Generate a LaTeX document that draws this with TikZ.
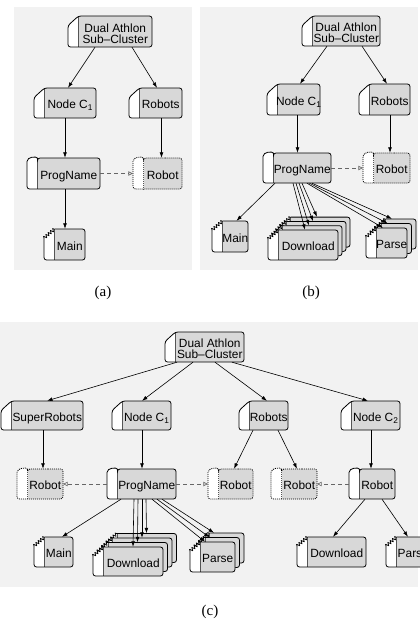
\documentclass[tikz,border=0pt]{standalone}
\usepackage{fontspec}
\setmainfont{Liberation Sans}
\newfontfamily\capfont{Liberation Serif}
\usetikzlibrary{arrows.meta,decorations.pathmorphing}
\definecolor{panelbg}{HTML}{F2F2F2}
\definecolor{bodygray}{HTML}{D8D8D8}
\definecolor{divgray}{HTML}{555555}
\definecolor{dashgray}{HTML}{666666}
\newcommand\boxfont{\fontsize{11.9}{11.3}\selectfont}
\newcommand\tabw{10.5}
% outlines
\newcommand\shpc[1]{#1 ({(\bxd+\bxr)/2},\byt) -- (\bxr,\byt) -- (\bxr,\byb) -- (\bxl,\byb) -- (\bxl,{\byt+9.5}) -- (\bxd,\byt) -- cycle;}
\newcommand\shpt[1]{#1 ({(\bxd+\bxr)/2},\byt) -- (\bxr,\byt) -- (\bxr,\byb) -- (\bxl,\byb) -- (\bxl,{\byt+9}) -- (\bxd,\byt) -- cycle;}
\newcommand\shpp[1]{#1 ({(\bxd+\bxr)/2},\byt) -- (\bxr,\byt) -- (\bxr,\byb) -- (\bxl,\byb) -- (\bxl,{\byt+6}) .. controls (\bxl,{\byt-1.5}) and ({\bxd-0.5},{\byt-1.8}) .. (\bxd,{\byt+2.5}) -- (\bxd,\byt) -- cycle;}
% strokes
\newcommand\strkc{\draw[divgray,line width=0.8pt] (\bxd,\byt) -- (\bxd,\byb); \shpc{\draw[outl,rounded corners=2.5]}}
\newcommand\strkp{\draw[divgray,line width=0.8pt] (\bxd,\byt) -- (\bxd,\byb); \shpp{\draw[outl,rounded corners=2.5]}}
\newcommand\strkr{\draw[divgray,line width=0.6pt,dash pattern=on 1pt off 1pt] (\bxd,{\byt+2.5}) -- (\bxd,\byb); \shpp{\draw[outl,dash pattern=on 1pt off 1pt,rounded corners=2.5]}}
\newcommand\strkt{\draw[divgray,line width=0.8pt] (\bxd,\byt) -- (\bxd,\byb);
 \draw[outl,rounded corners=2.5] (\bxd,\byt) -- (\bxr,\byt) -- (\bxr,\byb) -- (\bxl,\byb) -- (\bxl,{\byt+9});
 \draw[outl,line width=0.7pt,line join=round,decorate,decoration={zigzag,segment length=3pt,amplitude=1.6pt}] (\bxl,{\byt+9}) -- (\bxd,\byt);}
% box: [text opts]{kind}{name}{xl}{yt}{xr}{yb}{text}
\newcommand\nbox[8][]{%
 \pgfmathsetmacro\bxl{#4}\pgfmathsetmacro\byt{#5}%
 \pgfmathsetmacro\bxr{#6}\pgfmathsetmacro\byb{#7}%
 \pgfmathsetmacro\bxd{\bxl+\tabw}%
 \pgfmathsetmacro\bw{\bxr-\bxl}\pgfmathsetmacro\bh{\byb-\byt}%
 \pgfmathsetmacro\bcx{(\bxl+\bxr)/2}\pgfmathsetmacro\bcy{(\byt+\byb)/2}%
 \pgfmathsetmacro\btx{(\bxd+\bxr)/2}%
 \node[inner sep=0pt,minimum width=\bw pt,minimum height=\bh pt] (#3) at (\bcx,\bcy) {};%
 \if r#2\def\bk{p}\else\def\bk{#2}\fi
 \csname shp\bk\endcsname{\fill[white,rounded corners=2.5]}%
 \begin{scope}\csname shp\bk\endcsname{\clip[rounded corners=2.5]}%
 \fill[bodygray] (\bxd,{\byt-5}) rectangle ({\bxr+5},{\byb+5});\end{scope}%
 \csname strk#2\endcsname
 \node[boxtext,#1] (#3-t) at (\btx,\bcy) {#8};%
}
\begin{document}
\begin{tikzpicture}[x=1pt,y=-1pt,
 outl/.style={line width=0.8pt,black},
 arr/.style={line width=0.6pt,-{Latex[length=5.5pt,width=3.8pt]}},
 darr/.style={line width=0.9pt,dashgray,dash pattern=on 4pt off 3pt,-{Triangle[open,length=4.5pt,width=4.5pt,line width=0.7pt]}},
 boxtext/.style={inner sep=0pt,font=\boxfont,text height=8.6pt,text depth=0pt,yshift=-1.5pt},
 twoline/.style={text height=,text depth=,align=center,yshift=-0.5pt},
 captext/.style={font=\capfont\fontsize{15}{15}\selectfont,inner sep=0pt}]
\useasboundingbox (0,0) rectangle (420,622);
\clip (0,0) rectangle (420,622);
% panels
\fill[panelbg] (14,7) rectangle (192,270);
\fill[panelbg] (200,7) rectangle (418,270);
\fill[panelbg] (0,322) rectangle (418,587);
% ---------------- (a)
\nbox[twoline]{c}{aD}{68}{16}{152}{47}{Dual Athlon\\Sub--Cluster}
\nbox{c}{aN}{34}{88}{96}{118}{Node C\textsubscript{1}}
\nbox{c}{aR}{129}{88}{182}{118}{Robots}
\nbox{p}{aP}{27}{158}{100}{189}{ProgName}
\nbox{r}{aX}{133}{158}{182}{189}{Robot}
\nbox{t}{aM}{44}{229}{85}{260}{Main}
\draw[arr] ([xshift=-15]aD.south) -- ([xshift=3]aN.north);
\draw[arr] ([xshift=22]aD.south) -- ([xshift=1.5]aR.north);
\draw[arr] (aN.south) -- ([xshift=1.5]aP.north);
\draw[arr] ([xshift=6]aR.south) -- ([xshift=4]aX.north);
\draw[arr] ([xshift=1.5]aP.south) -- ([xshift=0.5]aM.north);
\draw[darr] (aP.east) -- (aX.west);
% ---------------- (b)
\nbox[twoline]{c}{bD}{302}{16}{380}{46}{Dual Athlon\\Sub--Cluster}
\nbox{c}{bN}{267}{84}{320}{115}{Node C\textsubscript{1}}
\nbox{c}{bR}{359}{84}{410}{115}{Robots}
\nbox{p}{bP}{263}{153}{331}{183}{ProgName}
\nbox{r}{bX}{363}{153}{410}{183}{Robot}
\nbox{t}{bM}{212}{221}{248}{252}{Main}
\foreach \k in {3,2,1} {\nbox{t}{bDl\k}{268+4*\k}{230-4.3*\k}{338+4*\k}{260-4.3*\k}{}}
\nbox{t}{bDl0}{268}{230}{338}{260}{Download}
\foreach \k in {2,1} {\nbox{t}{bPa\k}{366+4.5*\k}{228-4.5*\k}{407+4.5*\k}{258-4.5*\k}{}}
\nbox{t}{bPa0}{366}{228}{407}{258}{Parse}
\draw[arr] ([xshift=-14]bD.south) -- ([xshift=6.5]bN.north);
\draw[arr] ([xshift=21]bD.south) -- ([xshift=2.5]bR.north);
\draw[arr] ([xshift=4]bN.south) -- ([xshift=0.5]bP.north);
\draw[arr] ([xshift=5.5]bR.south) -- ([xshift=3.5]bX.north);
\draw[arr] ([xshift=-22]bP.south) -- ([xshift=6.5]bM.north);
\draw[darr] (bP.east) -- (bX.west);
\foreach \k in {0,...,3} {\draw[arr] ([xshift={-4+3*\k}]bP.south) -- ([xshift=2]bDl\k.north);}
\foreach \k in {0,...,2} {\draw[arr] ([xshift={10+2.5*\k}]bP.south) -- ([xshift=-3.5]bPa\k.north);}
% ---------------- (c)
\nbox[twoline]{c}{cD}{165}{332}{244}{362}{Dual Athlon\\Sub--Cluster}
\nbox{c}{cS}{1}{401}{83}{430}{SuperRobots}
\nbox{c}{cN}{112}{401}{171}{430}{Node C\textsubscript{1}}
\nbox{c}{cR}{239}{401}{288}{430}{Robots}
\nbox{c}{cNb}{341}{401}{400}{430}{Node C\textsubscript{2}}
\nbox{r}{cXa}{17}{469}{63}{499}{Robot}
\nbox{p}{cP}{107}{469}{176}{499}{ProgName}
\nbox{r}{cXb}{208}{469}{253}{499}{Robot}
\nbox{r}{cXc}{271}{469}{317}{499}{Robot}
\nbox{p}{cRb}{349}{469}{395}{499}{Robot}
\nbox{t}{cM}{34}{537}{73}{567}{Main}
\foreach \k in {3,2,1} {\nbox{t}{cDl\k}{93+4.5*\k}{547-4.5*\k}{163+4.5*\k}{576-4.5*\k}{}}
\nbox{t}{cDl0}{93}{547}{163}{576}{Download}
\foreach \k in {2,1} {\nbox{t}{cPa\k}{190+4.5*\k}{542-4.5*\k}{235+4.5*\k}{572-4.5*\k}{}}
\nbox{t}{cPa0}{190}{542}{235}{572}{Parse}
\nbox{t}{cDm}{297}{537}{366}{567}{Download}
\nbox{t}{cPm}{386}{537}{430}{567}{Parse}
\draw[arr] ([xshift=-27.5]cD.south) -- ([xshift=5]cS.north);
\draw[arr] ([xshift=-11.5]cD.south) -- ([xshift=0.5]cN.north);
\draw[arr] ([xshift=10.5]cD.south) -- ([xshift=3.5]cR.north);
\draw[arr] ([xshift=27.5]cD.south) -- ([xshift=-2.5]cNb.north);
\draw[arr] ([xshift=1]cS.south) -- ([xshift=3]cXa.north);
\draw[arr] ([xshift=0.5]cN.south) -- ([xshift=0.5]cP.north);
\draw[arr] ([xshift=-10.5]cR.south) -- ([xshift=3.5]cXb.north);
\draw[arr] ([xshift=14.5]cR.south) -- ([xshift=3]cXc.north);
\draw[arr] ([xshift=0.5]cNb.south) -- ([xshift=-1]cRb.north);
\draw[arr] ([xshift=-20.5]cP.south) -- ([xshift=8.5]cM.north);
\draw[darr] (cP.west) -- (cXa.east);
\draw[darr] (cP.east) -- (cXb.west);
\draw[darr] (cRb.west) -- (cXc.east);
\foreach \k in {0,...,3} {\draw[arr] ([xshift={-7.5+4*\k}]cP.south) -- ([xshift=5]cDl\k.north);}
\foreach \k in {0,...,2} {\draw[arr] ([xshift={10.5+5*\k}]cP.south) -- ([xshift=-7.5]cPa\k.north);}
\draw[arr] ([xshift=-7]cRb.south) -- ([xshift=1.5]cDm.north);
\draw[arr] ([xshift=10]cRb.south) -- (cPm.north);
% captions
\node[captext] (capa) at (103,293) {(a)};
\node[captext] (capb) at (311,293) {(b)};
\node[captext] (capc) at (210,612) {(c)};
\end{tikzpicture}
\end{document}
